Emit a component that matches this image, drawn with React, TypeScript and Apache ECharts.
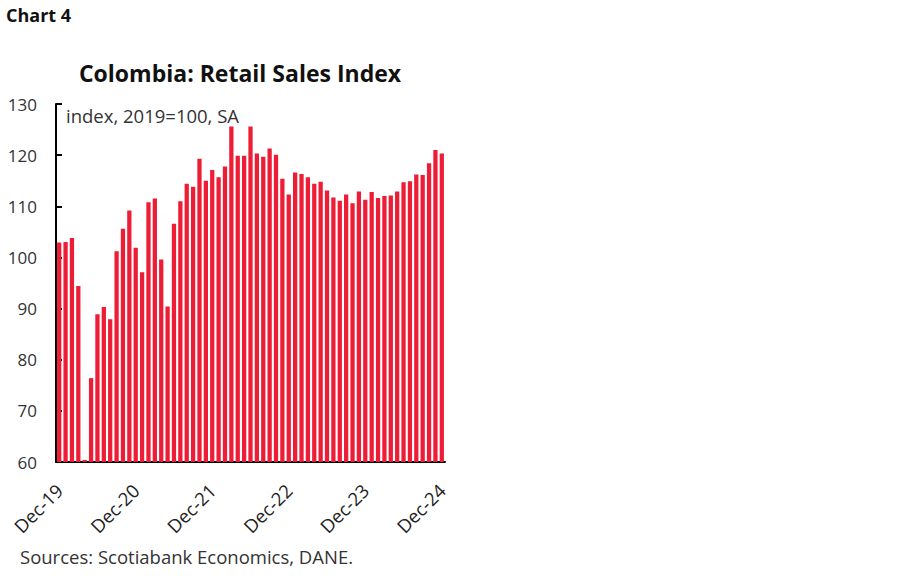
import React, { useEffect, useRef } from "react";
import * as echarts from "echarts";

const months = ["Jan","Feb","Mar","Apr","May","Jun","Jul","Aug","Sep","Oct","Nov","Dec"];
const categories: string[] = [];
for (let y = 2019; y <= 2024; y++) {
  for (let m = 0; m < 12; m++) {
    if (y === 2019 && m < 11) continue;
    categories.push(`${months[m]}-${String(y).slice(2)}`);
  }
}

const retailIndex = [
  102.9, 103.0, 103.8, 94.4, 60.4, 76.4, 88.9, 90.3, 87.9, 101.2, 105.6, 109.2,
  101.9, 97.1, 110.8, 111.5, 99.6, 90.4, 106.6, 111.0, 114.4, 113.8, 119.3, 115.0,
  117.1, 115.7, 117.8, 125.6, 119.9, 119.9, 125.6, 120.3, 119.7, 121.3, 120.1, 115.4,
  112.3, 116.6, 116.3, 115.7, 114.4, 114.8, 113.1, 111.7, 111.1, 112.3, 110.6, 112.9,
  111.3, 112.8, 111.6, 112.0, 112.1, 112.9, 114.7, 114.9, 116.2, 116.1, 118.4, 121.0,
  120.3,
];

const yTicks = { min: 60, max: 130, interval: 10 };

export default function App() {
  const ref = useRef<HTMLDivElement>(null);
  useEffect(() => {
    if (!ref.current) return;
    const chart = echarts.init(ref.current, null, { renderer: "svg" });
    chart.setOption({
      animation: false,
      backgroundColor: "#ffffff",
      grid: { left: 56, top: 104, width: 389, height: 358, containLabel: false },
      graphic: [
        { type: "text", left: 6, top: 6, style: { text: "Chart 4", font: "bold 18px 'Open Sans'", fill: "#111" } },
        { type: "text", x: 240, y: 73, style: { text: "Colombia: Retail Sales Index", font: "bold 23px 'Open Sans'", fill: "#111", textAlign: "center", textVerticalAlign: "middle" } },
        { type: "text", x: 66, y: 115, style: { text: "index, 2019=100, SA", font: "18.5px 'Open Sans'", fill: "#333", textVerticalAlign: "middle" } },
        { type: "text", x: 20, y: 556, style: { text: "Sources: Scotiabank Economics, DANE.", font: "18.5px 'Open Sans'", fill: "#333", textVerticalAlign: "middle" } },
      ],
      xAxis: {
        type: "category",
        data: categories,
        boundaryGap: true,
        axisLine: { lineStyle: { color: "#000", width: 2 } },
        axisTick: { interval: 11, length: 6, lineStyle: { color: "#000", width: 2 } },
        axisLabel: {
          interval: 11,
          rotate: 45,
          color: "#222",
          fontFamily: "Open Sans",
          fontSize: 18.5,
          margin: 25,
        },
      },
      yAxis: {
        type: "value",
        min: yTicks.min,
        max: yTicks.max,
        interval: yTicks.interval,
        splitLine: { show: false },
        axisLine: { show: true, lineStyle: { color: "#000", width: 2 } },
        axisTick: { show: true, inside: true, length: 6, lineStyle: { color: "#000", width: 2 } },
        axisLabel: { color: "#333", fontFamily: "Open Sans", fontSize: 17, margin: 19 },
      },
      series: [
        {
          type: "bar",
          data: retailIndex,
          barCategoryGap: "33%",
          itemStyle: { color: "#EE1D36" },
        },
      ],
    });
    return () => chart.dispose();
  }, []);
  return <div ref={ref} style={{ width: 900, height: 579, position: "absolute", left: 0, top: 0 }} />;
}
